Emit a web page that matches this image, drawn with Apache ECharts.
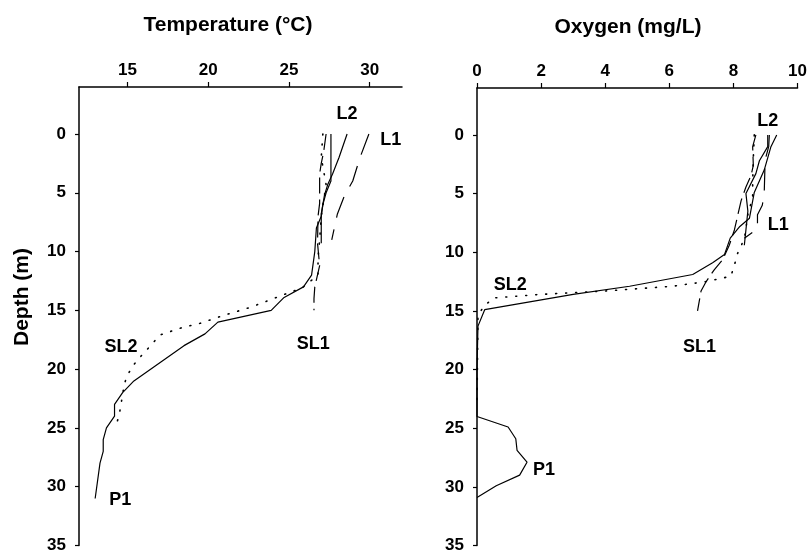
<!DOCTYPE html>
<html>
<head>
<meta charset="utf-8">
<script src="https://cdn.jsdelivr.net/npm/echarts@6/dist/echarts.min.js"></script>
<style>html,body{margin:0;padding:0;background:#fff}#c{width:810px;height:554px}</style>
</head>
<body>
<div id="c"></div>
<script>
// ---- Tick labels ----
const depthTicks = [0, 5, 10, 15, 20, 25, 30, 35];
const tempTicks = [15, 20, 25, 30];
const oxyTicks = [0, 2, 4, 6, 8, 10];

// ---- Temperature profiles [°C, depth m] ----
const tempL1 = [[29.95,0],[29.4,2],[28.95,4],[28.45,5.2],[28.0,6.8],[27.65,9.0]];
const tempL2 = [[28.6,0],[28.1,2],[27.7,3.4],[27.4,4.3],[27.2,5.2],[27.0,6.8],[27.0,9.3]];
const tempSL1 = [[27.3,0],[27.15,1.5],[27.0,2.5],[26.9,3.4],[26.9,5.9],[26.8,7],[26.77,9.3],[26.9,11.2],[26.6,13],[26.55,14],[26.55,15]];
const tempSL2 = [[27.1,0],[27.0,2],[27.3,4.3],[27.2,5.2],[27.0,7],[26.9,9],[26.8,10.5],[26.8,12],[25.8,13.1],[24.6,13.7],[22.7,14.7],[20.8,15.5],[19.5,16.1],[18.3,16.5],[17.0,17.1],[16.5,17.9],[15.9,18.8],[15.4,19.6],[15.0,20.5],[14.8,21.3],[14.6,23],[14.5,23.8],[14.3,24.8]];
const tempP1 = [[27.6,0],[27.6,4],[27.3,5],[27.1,6],[27.0,7],[26.7,8],[26.6,10],[26.4,12],[25.9,13],[24.7,13.9],[23.9,15],[20.6,16],[19.8,17],[18.5,18],[15.4,21],[14.7,22],[14.2,23],[14.2,24],[13.7,25],[13.5,26],[13.5,27],[13.3,28],[13.0,31]];

// ---- Oxygen profiles [mg/L, depth m] ----
const oxyL1 = [[9.12,0],[9.1,1],[9.0,2],[8.98,3],[8.96,5],[8.9,6],[8.75,6.8],[8.75,8],[8.34,8.8]];
const oxyL2 = [[9.07,0],[9.07,1],[8.81,2.2],[8.7,3.3],[8.39,5],[8.45,6.5],[8.34,9.4]];
const oxySL1 = [[8.7,0],[8.6,1],[8.62,2.6],[8.55,3.45],[8.39,4.44],[8.24,5.6],[8.03,8.1],[7.87,9.4],[7.66,10.65],[7.4,11.5],[7.15,12.5],[6.99,13.3],[6.88,15]];
const oxySL2 = [[8.65,0],[8.62,2],[8.6,4],[8.6,5.3],[8.45,6.8],[8.35,8.7],[8.25,9.4],[8.13,10.1],[8.03,11.1],[7.92,12.05],[7.15,12.5],[6.1,12.9],[4.03,13.3],[1.95,13.6],[0.5,13.9],[0.19,14.7],[0.03,15.4],[0,23]];
const oxyP1 = [[9.35,0],[9.17,1],[8.96,3],[8.65,4.9],[8.5,7.1],[8.2,7.8],[7.9,8.8],[7.72,10.2],[7.35,10.9],[6.73,11.9],[4.76,12.9],[3.0,13.6],[0.24,14.9],[0.03,16.3],[0,20],[0,24],[0.97,24.9],[1.21,25.9],[1.25,26.9],[1.56,27.9],[1.33,29],[0.6,29.9],[0,30.9]];

// ---- Curve labels [value, depth, text] ----
const tempLabels = [[28.6,-1.7,'L2'],[31.3,0.5,'L1'],[14.6,18.15,'SL2'],[26.5,17.9,'SL1'],[14.55,31.15,'P1']];
const oxyLabels = [[9.07,-1.2,'L2'],[9.4,7.7,'L1'],[1.04,12.8,'SL2'],[6.94,18.1,'SL1'],[2.09,28.55,'P1']];

const FONT = 'Liberation Sans, Arial, sans-serif';
const styles = {
  L1: [22, 12],
  L2: 'solid',
  SL1: [16, 6],
  SL2: [1, 9],
  P1: 'solid'
};

function lineSeries(name, data, idx) {
  return {
    type: 'line', name, data, xAxisIndex: idx, yAxisIndex: idx,
    symbol: 'none', silent: true, animation: false,
    lineStyle: { color: '#000', width: name === 'SL2' ? 1.6 : 1.2, type: styles[name], cap: name === 'SL2' ? 'round' : 'butt' }
  };
}
function labelSeries(data, idx) {
  return {
    type: 'scatter', xAxisIndex: idx, yAxisIndex: idx, symbolSize: 0, silent: true, animation: false,
    itemStyle: { opacity: 1, color: '#000' },
    data: data.map(d => ({ value: [d[0], d[1]], name: d[2] })),
    label: { show: true, position: 'inside', formatter: p => p.name, color: '#000', opacity: 1, textBorderWidth: 0, fontFamily: FONT, fontWeight: 'bold', fontSize: 18 }
  };
}
function xAx(min, max, ticks, idx) {
  return {
    type: 'value', gridIndex: idx, position: 'top', min, max,
    axisLine: { show: true, onZero: false, lineStyle: { color: '#000', width: 1.5 } },
    axisTick: { show: true, inside: false, length: 5, customValues: ticks, lineStyle: { color: '#000', width: 1.2 } },
    axisLabel: { customValues: ticks, margin: 8, color: '#000', fontFamily: FONT, fontWeight: 'bold', fontSize: 17 },
    splitLine: { show: false }
  };
}
function yAx(idx) {
  return {
    type: 'value', gridIndex: idx, inverse: true, min: -4, max: 35,
    axisLine: { show: true, onZero: false, lineStyle: { color: '#000', width: 1.5 } },
    axisTick: { show: true, length: 4, customValues: depthTicks, lineStyle: { color: '#000', width: 1.2 } },
    axisLabel: { customValues: depthTicks, margin: 13, color: '#000', fontFamily: FONT, fontWeight: 'bold', fontSize: 17 },
    splitLine: { show: false }
  };
}

const chart = echarts.init(document.getElementById('c'), null, { renderer: 'canvas' });
chart.setOption({
  backgroundColor: '#fff',
  animation: false,
  grid: [
    { left: 79, top: 87, width: 323, height: 459 },
    { left: 477, top: 88, width: 321, height: 458 }
  ],
  xAxis: [xAx(12, 32, tempTicks, 0), xAx(0, 10, oxyTicks, 1)],
  yAxis: [yAx(0), yAx(1)],
  graphic: [
    { type: 'text', x: 228, y: 25, style: { text: 'Temperature (°C)', fill: '#000', font: 'bold 21px ' + FONT, textAlign: 'center', textVerticalAlign: 'middle' } },
    { type: 'text', x: 628, y: 27, style: { text: 'Oxygen (mg/L)', fill: '#000', font: 'bold 21px ' + FONT, textAlign: 'center', textVerticalAlign: 'middle' } },
    { type: 'text', x: 22, y: 297, rotation: Math.PI / 2, style: { text: 'Depth (m)', fill: '#000', font: 'bold 21px ' + FONT, textAlign: 'center', textVerticalAlign: 'middle' } }
  ],
  series: [
    lineSeries('L1', tempL1, 0), lineSeries('L2', tempL2, 0), lineSeries('SL1', tempSL1, 0), lineSeries('SL2', tempSL2, 0), lineSeries('P1', tempP1, 0),
    lineSeries('L1', oxyL1, 1), lineSeries('L2', oxyL2, 1), lineSeries('SL1', oxySL1, 1), lineSeries('SL2', oxySL2, 1), lineSeries('P1', oxyP1, 1),
    labelSeries(tempLabels, 0), labelSeries(oxyLabels, 1)
  ]
});
</script>
</body>
</html>
